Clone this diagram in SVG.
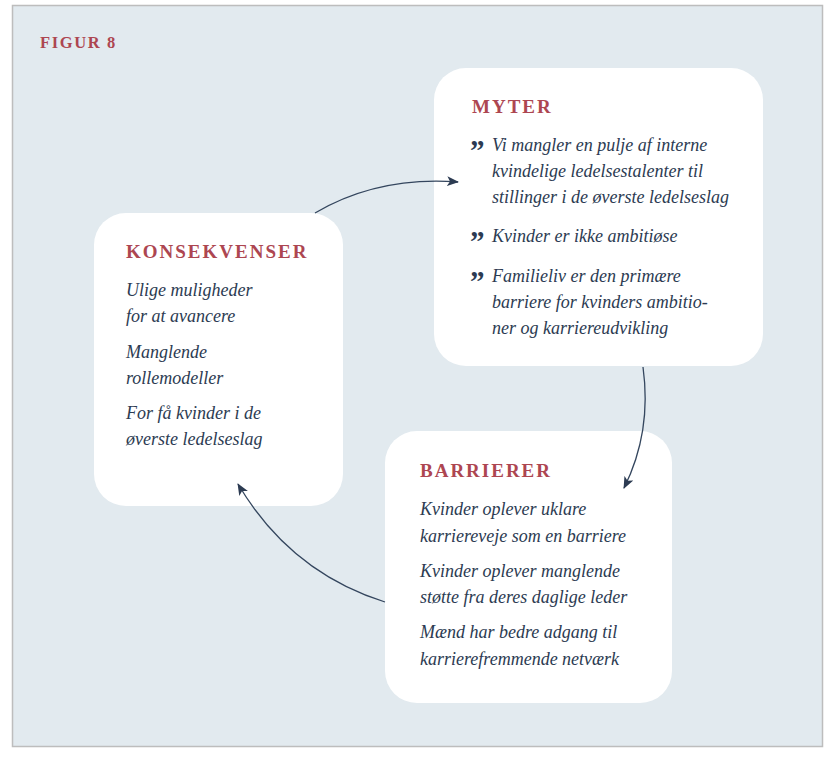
<svg xmlns="http://www.w3.org/2000/svg" width="825" height="779" viewBox="0 0 825 779">
<style>
.box{fill:#ffffff}
.title{font-family:"Liberation Serif",serif;font-weight:bold;font-size:19px;letter-spacing:2px;fill:#ad4651}
.body{font-family:"Liberation Serif",serif;font-style:italic;font-size:18px;fill:#2c3b52}
.q{font-family:"Liberation Serif",serif;font-weight:bold;font-size:29px;fill:#2c3b52}
.conn{fill:none;stroke:#34465e;stroke-width:1.3}
</style>
<defs>
<marker id="ah" viewBox="0 0 12 10" refX="11" refY="5" markerWidth="12" markerHeight="10" markerUnits="userSpaceOnUse" orient="auto">
<path d="M0,0 L12,5 L0,10 L3,5 Z" fill="#2c3b52"/>
</marker>
</defs>
<rect x="0" y="0" width="825" height="779" fill="#ffffff"/>
<rect x="12.5" y="5.5" width="810" height="741" fill="#e2eaef" stroke="#bdbdbd" stroke-width="1.5"/>
<text x="40" y="48" class="title" style="font-size:16.5px;letter-spacing:1.6px">FIGUR 8</text>

<g id="myter">
<rect class="box" x="434" y="68" width="329" height="298" rx="32"/>
<text class="title" x="472" y="113">MYTER</text>
<text class="q" x="470" y="160">”</text>
<text class="body" x="492" y="151">Vi mangler en pulje af interne</text>
<text class="body" x="492" y="177">kvindelige ledelsestalenter til</text>
<text class="body" x="492" y="203">stillinger i de øverste ledelseslag</text>
<text class="q" x="470" y="251">”</text>
<text class="body" x="492" y="242">Kvinder er ikke ambitiøse</text>
<text class="q" x="470" y="291">”</text>
<text class="body" x="492" y="282">Familieliv er den primære</text>
<text class="body" x="492" y="308">barriere for kvinders ambitio-</text>
<text class="body" x="492" y="334">ner og karriereudvikling</text>
</g>

<g id="konsekvenser">
<rect class="box" x="94" y="213" width="249" height="293" rx="32"/>
<text class="title" x="126" y="258">KONSEKVENSER</text>
<text class="body" x="126" y="296">Ulige muligheder</text>
<text class="body" x="126" y="322">for at avancere</text>
<text class="body" x="126" y="358">Manglende</text>
<text class="body" x="126" y="384">rollemodeller</text>
<text class="body" x="126" y="419">For få kvinder i de</text>
<text class="body" x="126" y="445">øverste ledelseslag</text>
</g>

<g id="barrierer">
<rect class="box" x="385" y="431" width="287" height="272" rx="32"/>
<text class="title" x="420" y="477">BARRIERER</text>
<text class="body" x="420" y="515">Kvinder oplever uklare</text>
<text class="body" x="420" y="542">karriereveje som en barriere</text>
<text class="body" x="420" y="577">Kvinder oplever manglende</text>
<text class="body" x="420" y="603">støtte fra deres daglige leder</text>
<text class="body" x="420" y="638">Mænd har bedre adgang til</text>
<text class="body" x="420" y="665">karrierefremmende netværk</text>
</g>

<g id="connectors">
<path class="conn" d="M315,213 Q378,176 458,182" marker-end="url(#ah)"/>
<path class="conn" d="M643,367 Q652,432 624,488" marker-end="url(#ah)"/>
<path class="conn" d="M385,602 Q290,572 238,484" marker-end="url(#ah)"/>
</g>
</svg>
